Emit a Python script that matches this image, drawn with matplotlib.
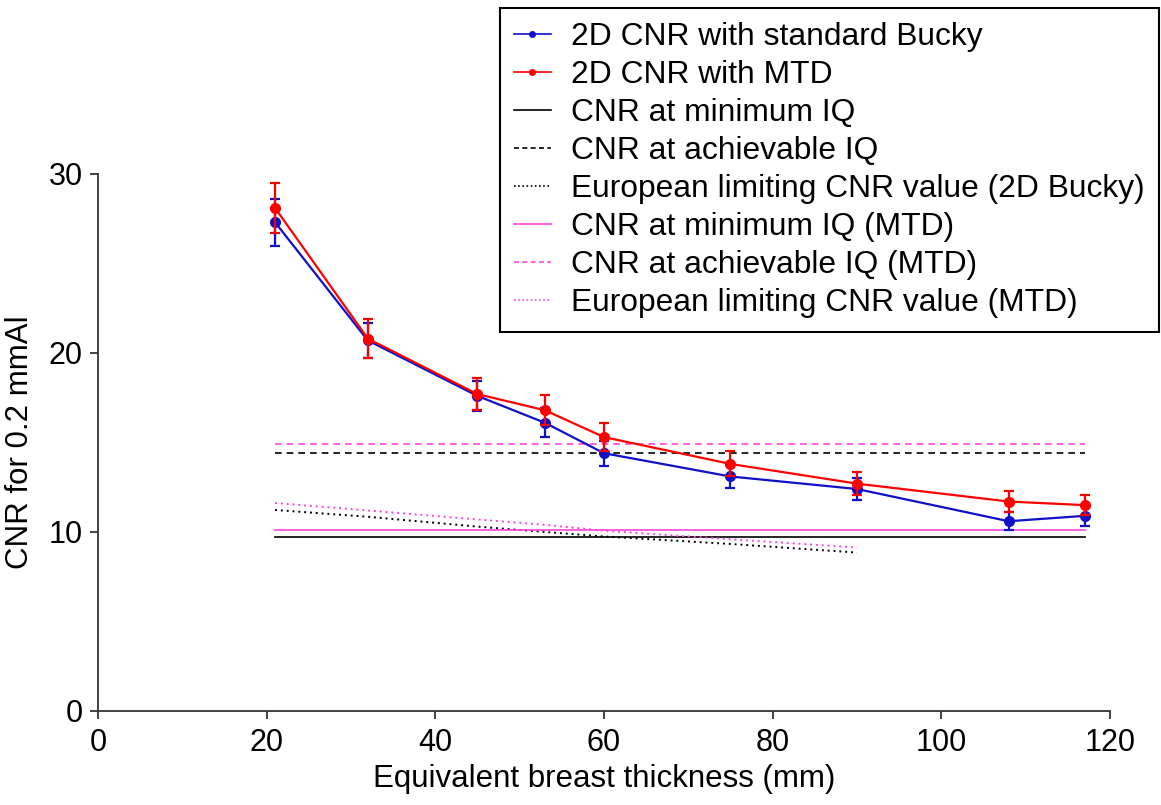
import matplotlib.pyplot as plt
from matplotlib.lines import Line2D

# equivalent breast thickness (mm)
thickness = [21, 32, 45, 53, 60, 75, 90, 108, 117]

# 2D CNR values and error bars
cnr_bucky = [27.3, 20.7, 17.6, 16.1, 14.4, 13.1, 12.4, 10.6, 10.9]
err_bucky = [1.3, 1.0, 0.85, 0.8, 0.7, 0.65, 0.6, 0.5, 0.55]
cnr_mtd = [28.1, 20.8, 17.7, 16.8, 15.3, 13.8, 12.7, 11.7, 11.5]
err_mtd = [1.4, 1.1, 0.9, 0.85, 0.78, 0.7, 0.65, 0.6, 0.55]

# reference levels (horizontal lines from first to last thickness)
line_x = [21, 117]
min_iq = 9.7
ach_iq = 14.4
min_iq_mtd = 10.13
ach_iq_mtd = 14.93

# European limiting CNR values
eu_x = [21, 32, 45, 53, 60, 75, 90]
eu_bucky = [11.23, 10.85, 10.3, 10.0, 9.75, 9.33, 8.85]
eu_mtd = [11.62, 11.2, 10.7, 10.4, 10.07, 9.59, 9.13]

blue = "#1010c8"
red = "#ff0000"
pink = "#ff44d8"

plt.rcParams['font.family'] = ['Liberation Sans', 'DejaVu Sans']

fig = plt.figure(figsize=(11.61, 8.05), dpi=100)
ax = fig.add_axes([0.0844, 0.1168, 0.8716, 0.6671])

ax.errorbar(thickness, cnr_bucky, yerr=err_bucky, color=blue, marker='o',
            markersize=7, linewidth=1.6, elinewidth=1.6, capsize=3.5,
            capthick=1.6, zorder=3)
ax.errorbar(thickness, cnr_mtd, yerr=err_mtd, color=red, marker='o',
            markersize=7, linewidth=1.6, elinewidth=1.6, capsize=3.5,
            capthick=1.6, zorder=4)

ax.plot(line_x, [min_iq, min_iq], color='black', linewidth=1.2)
ax.plot(line_x, [ach_iq, ach_iq], color='black', linewidth=1.2,
        linestyle=(0, (4, 3)))
ax.plot(eu_x, eu_bucky, color='black', linewidth=1.4, linestyle=(0, (1, 2)))
ax.plot(line_x, [min_iq_mtd, min_iq_mtd], color=pink, linewidth=1.2)
ax.plot(line_x, [ach_iq_mtd, ach_iq_mtd], color=pink, linewidth=1.2,
        linestyle=(0, (4, 3)))
ax.plot(eu_x, eu_mtd, color=pink, linewidth=1.4, linestyle=(0, (1, 2)))

ax.set_xlim(0, 120)
ax.set_ylim(0, 30)
ax.set_xticks([0, 20, 40, 60, 80, 100, 120])
ax.set_yticks([0, 10, 20, 30])
ax.spines['top'].set_visible(False)
ax.spines['right'].set_visible(False)
for s in ['left', 'bottom']:
    ax.spines[s].set_linewidth(1.3)
    ax.spines[s].set_color('#333333')
ax.tick_params(direction='out', length=5.5, width=1.3, labelsize=22, colors='#333333',
               labelcolor='black')
ax.tick_params(axis='y', pad=5.5)
ax.tick_params(axis='x', pad=7)

ax.set_xlabel("Equivalent breast thickness (mm)", fontsize=22.5, labelpad=4)
ax.set_ylabel("CNR for 0.2 mmAl", fontsize=22.5, labelpad=10)

# legend handles drawn without error bars
handles = [
    Line2D([], [], color=blue, marker='o', markersize=4, linewidth=1.2),
    Line2D([], [], color=red, marker='o', markersize=4, linewidth=1.2),
    Line2D([], [], color='black', linewidth=1.2),
    Line2D([], [], color='black', linewidth=1.2, linestyle=(0, (3, 2))),
    Line2D([], [], color='black', linewidth=1.2, linestyle=(0, (1, 1.5))),
    Line2D([], [], color=pink, linewidth=1.2),
    Line2D([], [], color=pink, linewidth=1.2, linestyle=(0, (3, 2))),
    Line2D([], [], color=pink, linewidth=1.2, linestyle=(0, (1, 1.5))),
]
labels = [
    "2D CNR with standard Bucky",
    "2D CNR with MTD",
    "CNR at minimum IQ",
    "CNR at achievable IQ",
    "European limiting CNR value (2D Bucky)",
    "CNR at minimum IQ (MTD)",
    "CNR at achievable IQ (MTD)",
    "European limiting CNR value (MTD)",
]
leg = fig.legend(handles, labels, loc='upper right', bbox_to_anchor=(0.9985, 0.99),
                 bbox_transform=fig.transFigure, fontsize=22.9, frameon=True,
                 fancybox=False, edgecolor='black', framealpha=1,
                 handlelength=1.15, handletextpad=0.65, labelspacing=0.25,
                 borderpad=0.45, borderaxespad=0)
leg.get_frame().set_linewidth(1.5)

fig.savefig("out.png", dpi=100)
